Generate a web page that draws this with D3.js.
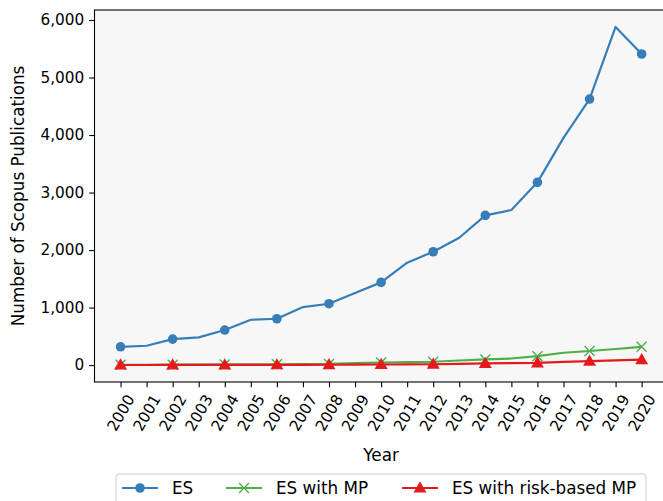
<!DOCTYPE html>
<html>
<head>
<meta charset="utf-8">
<script src="https://cdn.jsdelivr.net/npm/d3@7"></script>
<style>
  html, body { margin: 0; padding: 0; background: #fff; }
  svg { display: block; font-family: "DejaVu Sans", sans-serif; }
</style>
</head>
<body>
<svg id="chart" width="663" height="501"></svg>
<script>
// Scopus publication counts per year
const years = [2000, 2001, 2002, 2003, 2004, 2005, 2006, 2007, 2008, 2009, 2010,
               2011, 2012, 2013, 2014, 2015, 2016, 2017, 2018, 2019, 2020];
const esValues = [318, 336, 452, 481, 609, 788, 806, 1009, 1067, 1252, 1438,
                  1780, 1971, 2214, 2603, 2696, 3177, 3950, 4626, 5880, 5409];
const esMpValues = [5, 6, 8, 10, 12, 14, 15, 18, 20, 35, 45,
                    52, 58, 80, 99, 115, 155, 215, 245, 280, 318];
const esRiskMpValues = [2, 2, 3, 3, 4, 4, 5, 5, 6, 8, 10,
                        12, 15, 22, 30, 33, 38, 55, 68, 82, 95];
const yTicks = [0, 1000, 2000, 3000, 4000, 5000, 6000];
const seriesNames = ["ES", "ES with MP", "ES with risk-based MP"];
const seriesColors = ["#377eb8", "#4daf4a", "#e41a1c"];

const tickFont = 15.3;
const labelFont = 16.8;

const svg = d3.select("#chart");
const plot = { left: 94.5, top: 10, right: 667.7, bottom: 382 };

const x = d3.scaleLinear().domain([1999, 2021]).range([plot.left, plot.right]);
const yMax = d3.max(esValues);
const pad = yMax * 0.05;
const y = d3.scaleLinear().domain([-pad, yMax + pad]).range([plot.bottom, plot.top]);

// Axes background
svg.append("rect")
  .attr("x", plot.left).attr("y", plot.top)
  .attr("width", plot.right - plot.left).attr("height", plot.bottom - plot.top)
  .attr("fill", "#f7f7f7");

const clipId = "plot-clip";
svg.append("clipPath").attr("id", clipId).append("rect")
  .attr("x", plot.left).attr("y", plot.top)
  .attr("width", plot.right - plot.left).attr("height", plot.bottom - plot.top);

const series = [
  { name: seriesNames[0], values: esValues, color: seriesColors[0], marker: "circle" },
  { name: seriesNames[1], values: esMpValues, color: seriesColors[1], marker: "x" },
  { name: seriesNames[2], values: esRiskMpValues, color: seriesColors[2], marker: "triangle" }
];

const line = d3.line().x(d => x(d.year)).y(d => y(d.value));

function drawMarker(g, type, color) {
  if (type === "circle") {
    g.append("circle").attr("r", 4.8).attr("fill", color);
  } else if (type === "x") {
    g.append("path").attr("d", "M-5,-5L5,5M-5,5L5,-5")
      .attr("stroke", color).attr("stroke-width", 1.4).attr("fill", "none");
  } else {
    g.append("path").attr("d", d3.symbol().type(d3.symbolTriangle).size(72)())
      .attr("fill", color).attr("transform", "translate(0,0.8)");
  }
}

const dataG = svg.append("g").attr("clip-path", `url(#${clipId})`);
series.forEach(s => {
  const pts = years.map((yr, i) => ({ year: yr, value: s.values[i] }));
  dataG.append("path")
    .datum(pts)
    .attr("d", line)
    .attr("fill", "none")
    .attr("stroke", s.color)
    .attr("stroke-width", 2.2)
    .attr("stroke-linejoin", "round");
  pts.filter((d, i) => i % 2 === 0).forEach(d => {
    const g = dataG.append("g").attr("transform", `translate(${x(d.year)},${y(d.value)})`);
    drawMarker(g, s.marker, s.color);
  });
});

// Frame
svg.append("rect")
  .attr("x", plot.left).attr("y", plot.top)
  .attr("width", plot.right - plot.left).attr("height", plot.bottom - plot.top)
  .attr("fill", "none").attr("stroke", "#000").attr("stroke-width", 1.1);

// Y axis
const yAxis = d3.axisLeft(y).tickValues(yTicks).tickSize(5.3).tickPadding(5)
  .tickFormat(d3.format(","));
const yG = svg.append("g").attr("transform", `translate(${plot.left},0)`).call(yAxis);
yG.select(".domain").remove();
yG.selectAll("text").attr("font-size", tickFont).attr("font-family", "DejaVu Sans").attr("fill", "#000");
yG.selectAll("line").attr("stroke", "#000").attr("stroke-width", 1.1);

// X axis, labels rotated 60 degrees and centred under each tick
const xAxis = d3.axisBottom(x).tickValues(years).tickSize(5.3).tickFormat(d3.format("d"));
const xG = svg.append("g").attr("transform", `translate(0,${plot.bottom})`).call(xAxis);
xG.select(".domain").remove();
xG.selectAll("line").attr("stroke", "#000").attr("stroke-width", 1.1);
xG.selectAll("text")
  .attr("font-size", tickFont).attr("font-family", "DejaVu Sans").attr("fill", "#000")
  .attr("text-anchor", "middle")
  .attr("dominant-baseline", "central")
  .attr("y", null).attr("dy", null)
  .attr("transform", "translate(0,31) rotate(-60)");

// Axis titles
svg.append("text")
  .attr("x", (plot.left + plot.right) / 2).attr("y", 461)
  .attr("text-anchor", "middle").attr("font-size", labelFont).text("Year");
svg.append("text")
  .attr("transform", `translate(23.5,${(plot.top + plot.bottom) / 2}) rotate(-90)`)
  .attr("text-anchor", "middle").attr("font-size", labelFont)
  .text("Number of Scopus Publications");

// Legend
const legend = svg.append("g");
legend.append("rect")
  .attr("x", 116).attr("y", 474).attr("width", 530).attr("height", 40)
  .attr("rx", 3).attr("fill", "#fff").attr("fill-opacity", 0.8)
  .attr("stroke", "#cccccc").attr("stroke-width", 1);
const legendX = [122, 226, 402];
series.forEach((s, i) => {
  const g = legend.append("g").attr("transform", `translate(${legendX[i]},488)`);
  g.append("line").attr("x1", 0).attr("x2", 36).attr("y1", 0).attr("y2", 0)
    .attr("stroke", s.color).attr("stroke-width", 2.2);
  drawMarker(g.append("g").attr("transform", "translate(18,0)"), s.marker, s.color);
  g.append("text").attr("x", 50).attr("y", 0).attr("dy", "0.35em")
    .attr("font-size", labelFont).text(s.name);
});
</script>
</body>
</html>
